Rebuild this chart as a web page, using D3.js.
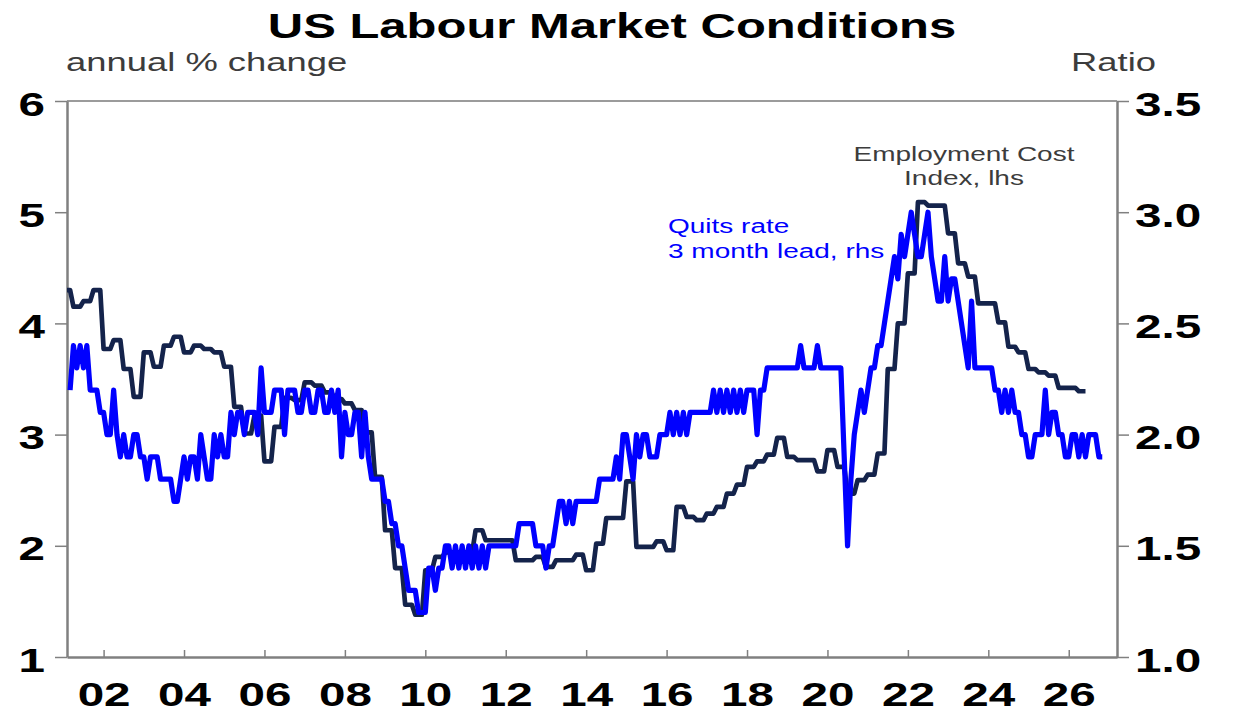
<!DOCTYPE html>
<html lang="en">
<head>
<meta charset="UTF-8">
<title>US Labour Market Conditions</title>
<script src="https://cdnjs.cloudflare.com/ajax/libs/d3/7.9.0/d3.min.js"></script>
<style>
    html, body {
        margin: 0;
        padding: 0;
        background: #fff;
    }
    svg {
        display: block;
        font-family: "Liberation Sans", Arial, sans-serif;
    }
    .axis path, .axis line {
        stroke: #808080;
    }
    .axis text {
        font-size: 34px;
        font-weight: bold;
        fill: #000;
    }
</style>
</head>
<body>
<svg id="chart" width="1234" height="726"></svg>
<script>
// Employment Cost Index, annual % change, quarterly from 2001 Q1 (lhs)
const eciStart = 2001;
const eciValues = [
    4.30, 4.15, 4.20, 4.30,   // 2001
    3.77, 3.85, 3.59, 3.34,   // 2002
    3.74, 3.61, 3.80, 3.88,   // 2003
    3.74, 3.80, 3.77, 3.74,   // 2004
    3.61, 3.25, 3.01, 3.17,   // 2005
    2.76, 3.07, 3.33, 3.31,   // 2006
    3.47, 3.44, 3.38, 3.32,   // 2007
    3.28, 3.22, 3.02, 2.62,   // 2008
    2.14, 1.80, 1.47, 1.38,   // 2009
    1.78, 1.90, 1.94, 1.94,   // 2010
    1.94, 2.14, 2.05, 2.05,   // 2011
    2.05, 1.87, 1.87, 1.90,   // 2012
    1.81, 1.87, 1.87, 1.92,   // 2013
    1.78, 2.02, 2.25, 2.25,   // 2014
    2.58, 1.99, 1.99, 2.04,   // 2015
    1.96, 2.35, 2.26, 2.23,   // 2016
    2.29, 2.35, 2.47, 2.55,   // 2017
    2.71, 2.76, 2.82, 2.97,   // 2018
    2.80, 2.77, 2.77, 2.67,   // 2019
    2.86, 2.71, 2.47, 2.59,   // 2020
    2.64, 2.83, 3.59, 4.00,   // 2021
    4.45, 5.09, 5.06, 5.06,   // 2022
    4.81, 4.54, 4.42, 4.18,   // 2023
    4.18, 4.01, 3.79, 3.74,   // 2024
    3.59, 3.56, 3.53, 3.42,   // 2025
    3.42, 3.39                // 2026
];

// Quits rate, 3 month lead, monthly from Mar 2001 (rhs)
const quitsStart = 2001 + 2 / 12;
const quitsValues = [
    2.2, 2.4, 2.3, 2.4, 2.3, 2.4, 2.2, 2.2, 2.2, 2.1,                 // 2001 (Mar-Dec)
    2.1, 2.0, 2.0, 2.2, 2.0, 1.9, 2.0, 1.9, 1.9, 2.0, 2.0, 1.9,       // 2002
    1.9, 1.8, 1.9, 1.9, 1.9, 1.8, 1.8, 1.8, 1.8, 1.7, 1.7, 1.8,       // 2003
    1.9, 1.8, 1.9, 1.9, 1.8, 2.0, 1.9, 1.8, 1.8, 2.0, 1.9, 2.0,       // 2004
    1.9, 1.9, 2.1, 2.0, 2.1, 2.1, 2.0, 2.1, 2.1, 2.1, 2.0, 2.3,       // 2005
    2.1, 2.1, 2.1, 2.2, 2.2, 2.2, 2.0, 2.2, 2.2, 2.2, 2.1, 2.1,       // 2006
    2.2, 2.2, 2.1, 2.1, 2.2, 2.2, 2.1, 2.1, 2.2, 2.1, 2.2, 1.9,       // 2007
    2.1, 2.0, 2.0, 2.1, 2.1, 1.9, 2.1, 1.9, 1.8, 1.8, 1.8, 1.8,       // 2008
    1.7, 1.7, 1.6, 1.6, 1.5, 1.5, 1.4, 1.3, 1.3, 1.3, 1.2, 1.2,       // 2009
    1.2, 1.4, 1.4, 1.3, 1.4, 1.4, 1.5, 1.5, 1.4, 1.5, 1.4, 1.5,       // 2010
    1.4, 1.5, 1.4, 1.5, 1.4, 1.5, 1.4, 1.5, 1.5, 1.5, 1.5, 1.5,       // 2011
    1.5, 1.5, 1.5, 1.5, 1.6, 1.6, 1.6, 1.6, 1.6, 1.5, 1.5, 1.5,       // 2012
    1.4, 1.5, 1.5, 1.6, 1.7, 1.7, 1.6, 1.7, 1.6, 1.7, 1.7, 1.7,       // 2013
    1.7, 1.7, 1.7, 1.7, 1.8, 1.8, 1.8, 1.8, 1.8, 1.9, 1.8, 2.0,       // 2014
    2.0, 1.9, 1.8, 2.0, 1.9, 2.0, 2.0, 1.9, 1.9, 1.9, 2.0, 2.0,       // 2015
    2.0, 2.1, 2.0, 2.1, 2.0, 2.1, 2.0, 2.1, 2.1, 2.1, 2.1, 2.1,       // 2016
    2.1, 2.1, 2.2, 2.1, 2.2, 2.1, 2.2, 2.1, 2.2, 2.1, 2.2, 2.1,       // 2017
    2.2, 2.2, 2.2, 2.0, 2.2, 2.2, 2.3, 2.3, 2.3, 2.3, 2.3, 2.3,       // 2018
    2.3, 2.3, 2.3, 2.3, 2.4, 2.3, 2.3, 2.3, 2.3, 2.4, 2.3, 2.3,       // 2019
    2.3, 2.3, 2.3, 2.3, 2.3, 1.9, 1.5, 1.8, 2.0, 2.1, 2.2, 2.1,       // 2020
    2.2, 2.3, 2.3, 2.4, 2.4, 2.5, 2.6, 2.7, 2.8, 2.7, 2.9, 2.8,       // 2021
    2.9, 3.0, 2.9, 2.8, 2.8, 2.9, 3.0, 2.8, 2.7, 2.6, 2.6, 2.8,       // 2022
    2.6, 2.7, 2.7, 2.6, 2.5, 2.4, 2.3, 2.6, 2.3, 2.3, 2.3, 2.3,       // 2023
    2.3, 2.3, 2.2, 2.2, 2.1, 2.2, 2.1, 2.2, 2.1, 2.1, 2.0, 2.0,       // 2024
    1.9, 1.9, 2.0, 2.0, 2.0, 2.2, 2.0, 2.1, 2.1, 2.0, 2.0, 1.9,       // 2025
    1.9, 2.0, 2.0, 1.9, 2.0, 1.9, 2.0, 2.0, 2.0, 1.9, 1.9             // 2026 (Jan-Nov)
];

const leftTicks = [1, 2, 3, 4, 5, 6];
const rightTicks = [1.0, 1.5, 2.0, 2.5, 3.0, 3.5];
const yearTicks = [2002, 2004, 2006, 2008, 2010, 2012, 2014, 2016, 2018, 2020, 2022, 2024, 2026];

const SX = 1.4; // the picture is drawn wide: stretch text horizontally
const plot = {left: 67, right: 1117, top: 101, bottom: 657};

const svg = d3.select('#chart');

const x = d3.scaleLinear().domain([2001.09, 2027.2]).range([plot.left, plot.right]);
const yL = d3.scaleLinear().domain([1, 6]).range([plot.bottom, plot.top]);
const yR = d3.scaleLinear().domain([1, 3.5]).range([plot.bottom, plot.top]);

function stretched(parent, str, px, py, anchor) {
    return parent.append('text')
        .attr('transform', `translate(${px},${py}) scale(${SX},1)`)
        .attr('text-anchor', anchor)
        .text(str);
}

// titles
stretched(svg, 'US Labour Market Conditions', 612, 38, 'middle')
    .style('font-size', '35px').style('font-weight', 'bold').attr('fill', '#000');
stretched(svg, 'annual % change', 66, 71, 'start')
    .style('font-size', '26px').attr('fill', '#3c3c3c');
stretched(svg, 'Ratio', 1156, 71, 'end')
    .style('font-size', '26px').attr('fill', '#3c3c3c');

// frame top
svg.append('line')
    .attr('x1', plot.left).attr('x2', plot.right)
    .attr('y1', plot.top).attr('y2', plot.top)
    .attr('stroke', '#7a7a7a').attr('stroke-width', 1.3);

// axes
const gL = svg.append('g').attr('class', 'axis')
    .attr('transform', `translate(${plot.left},0)`)
    .call(d3.axisLeft(yL).tickValues(leftTicks).tickSizeInner(12).tickSizeOuter(0).tickFormat(d3.format('d')));
gL.selectAll('.tick text')
    .attr('x', null).attr('dy', null)
    .attr('text-anchor', 'end')
    .attr('transform', `translate(-22,14) scale(${SX},1)`);

const gR = svg.append('g').attr('class', 'axis')
    .attr('transform', `translate(${plot.right},0)`)
    .call(d3.axisRight(yR).tickValues(rightTicks).tickSizeInner(12).tickSizeOuter(0).tickFormat(d3.format('.1f')));
gR.selectAll('.tick text')
    .attr('x', null).attr('dy', null)
    .attr('text-anchor', 'start')
    .attr('transform', `translate(18,14) scale(${SX},1)`);

const gB = svg.append('g').attr('class', 'axis')
    .attr('transform', `translate(0,${plot.bottom})`)
    .call(d3.axisBottom(x).tickValues(yearTicks).tickSizeInner(-7).tickSizeOuter(0)
        .tickFormat(d => String(d % 100).padStart(2, '0')));
gB.selectAll('.tick text')
    .attr('y', null).attr('dy', null)
    .attr('text-anchor', 'middle')
    .attr('transform', `translate(0,49) scale(${SX},1)`);

svg.selectAll('.axis .domain').attr('stroke-width', 2.5);
svg.selectAll('.axis .tick line').attr('stroke-width', 1.5);

// series
svg.append('clipPath').attr('id', 'plotclip')
    .append('rect')
    .attr('x', plot.left).attr('y', plot.top)
    .attr('width', plot.right - plot.left).attr('height', plot.bottom - plot.top);

// quarterly value held through its three months
const eciPoints = eciValues.flatMap((v, i) => [
    [eciStart + i / 4, v],
    [eciStart + i / 4 + 2 / 12, v]
]);
const quitsPoints = quitsValues.map((v, i) => [quitsStart + i / 12, v]);

const lines = svg.append('g').attr('clip-path', 'url(#plotclip)');

lines.append('path')
    .datum(eciPoints)
    .attr('fill', 'none')
    .attr('stroke', '#14234b')
    .attr('stroke-width', 4.7)
    .attr('stroke-linejoin', 'round')
    .attr('d', d3.line().x(d => x(d[0])).y(d => yL(d[1])));

lines.append('path')
    .datum(quitsPoints)
    .attr('fill', 'none')
    .attr('stroke', '#0000ff')
    .attr('stroke-width', 5.2)
    .attr('stroke-linejoin', 'round')
    .attr('d', d3.line().x(d => x(d[0])).y(d => yR(d[1])));

// labels on the plot
stretched(svg, 'Employment Cost', 964, 161, 'middle')
    .style('font-size', '20px').attr('fill', '#3c3c3c');
stretched(svg, 'Index, lhs', 964, 185, 'middle')
    .style('font-size', '20px').attr('fill', '#3c3c3c');
stretched(svg, 'Quits rate', 668, 233, 'start')
    .style('font-size', '20px').attr('fill', '#0000ff');
stretched(svg, '3 month lead, rhs', 668, 258, 'start')
    .style('font-size', '20px').attr('fill', '#0000ff');
</script>
</body>
</html>
